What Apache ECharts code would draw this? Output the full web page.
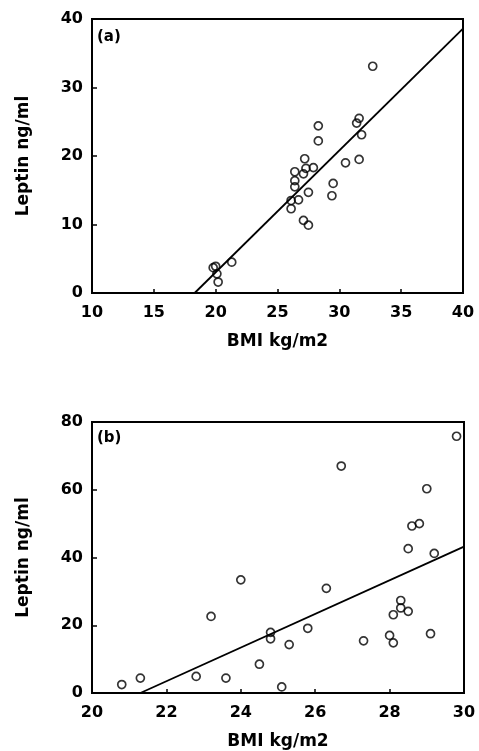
<!DOCTYPE html>
<html>
<head>
<meta charset="utf-8">
<script src="https://cdn.jsdelivr.net/npm/echarts@6/dist/echarts.min.js"></script>
<style>
html,body{margin:0;padding:0;background:#fff;}
#chart{width:479px;height:751px;}
</style>
</head>
<body>
<div id="chart"></div>
<script>
// panel (a)
var bmiA = [19.8, 20.0, 20.1, 20.2, 21.3, 26.1, 26.1, 26.7, 26.4, 26.4, 26.4, 27.1, 27.2, 27.3, 27.9, 27.5, 27.1, 27.5, 28.3, 28.3, 29.4, 29.5, 30.5, 31.6, 31.4, 31.8, 31.6, 32.7];
var leptinA = [3.7, 3.9, 2.8, 1.6, 4.5, 12.3, 13.5, 13.6, 15.5, 16.4, 17.7, 17.4, 19.6, 18.2, 18.3, 14.7, 10.6, 9.9, 24.4, 22.2, 14.2, 16.0, 19.0, 25.5, 24.8, 23.1, 19.5, 33.1];
var fitBmiA = [18.3, 40];
var fitLeptinA = [0, 38.6];
var ticksXA = [10, 15, 20, 25, 30, 35, 40];
var ticksYA = [0, 10, 20, 30, 40];

// panel (b)
var bmiB = [20.8, 21.3, 22.8, 23.2, 23.6, 24.0, 24.5, 24.8, 24.8, 25.1, 25.3, 25.8, 26.3, 26.7, 27.3, 28.0, 28.1, 28.1, 28.3, 28.3, 28.5, 28.5, 28.6, 28.8, 29.0, 29.1, 29.2, 29.8];
var leptinB = [2.5, 4.4, 4.9, 22.6, 4.4, 33.4, 8.5, 16.0, 17.9, 1.8, 14.3, 19.1, 30.9, 67.0, 15.4, 17.0, 14.8, 23.1, 27.3, 25.1, 24.1, 42.6, 49.3, 50.0, 60.3, 17.5, 41.2, 75.8];
var fitBmiB = [21.3, 30];
var fitLeptinB = [0, 43.2];
var ticksXB = [20, 22, 24, 26, 28, 30];
var ticksYB = [0, 20, 40, 60, 80];

var font = 'DejaVu Sans';

function pairs(xs, ys){
	var out = [];
	for(var i=0;i<xs.length;i++){
		out.push([xs[i], ys[i]]);
	}
	return out;
}

function xAxisCfg(idx, ticks){
	return {
		type: 'value', gridIndex: idx,
		min: ticks[0], max: ticks[ticks.length-1], interval: ticks[1]-ticks[0],
		name: 'BMI kg/m2', nameLocation: 'middle', nameGap: 40,
		nameTextStyle: {fontFamily: font, fontWeight: 'bold', fontSize: 17, color: '#000'},
		axisLine: {show: true, onZero: false, lineStyle: {color: '#000', width: 2}},
		axisTick: {show: true, inside: true, length: 4, lineStyle: {color: '#000', width: 1.5}},
		axisLabel: {margin: 12, fontFamily: font, fontWeight: 'bold', fontSize: 16, color: '#000', showMinLabel: true, showMaxLabel: true},
		splitLine: {show: false}
	};
}

function yAxisCfg(idx, ticks){
	return {
		type: 'value', gridIndex: idx,
		min: ticks[0], max: ticks[ticks.length-1], interval: ticks[1]-ticks[0],
		name: 'Leptin ng/ml', nameLocation: 'middle', nameGap: 60,
		nameTextStyle: {fontFamily: font, fontWeight: 'bold', fontSize: 17, color: '#000'},
		axisLine: {show: true, onZero: false, lineStyle: {color: '#000', width: 2}},
		axisTick: {show: true, inside: true, length: 5, lineStyle: {color: '#000', width: 1.5}},
		axisLabel: {margin: 9, fontFamily: font, fontWeight: 'bold', fontSize: 16, color: '#000', showMinLabel: true, showMaxLabel: true},
		splitLine: {show: false}
	};
}

function scatterCfg(idx, data){
	return {
		type: 'scatter', xAxisIndex: idx, yAxisIndex: idx,
		data: data, symbol: 'circle', symbolSize: 8, z: 3,
		itemStyle: {color: 'rgba(255,255,255,0)', borderColor: '#000', borderWidth: 1.7},
		emphasis: {disabled: true}
	};
}

function fitCfg(idx, data){
	return {
		type: 'line', xAxisIndex: idx, yAxisIndex: idx,
		data: data, showSymbol: false, z: 2,
		lineStyle: {color: '#000', width: 1.8},
		emphasis: {disabled: true}
	};
}

var option = {
	backgroundColor: '#fff',
	animation: false,
	grid: [
		{left: 92, top: 19, width: 371, height: 274, show: true, borderColor: '#000', borderWidth: 2},
		{left: 92, top: 422, width: 372, height: 272, show: true, borderColor: '#000', borderWidth: 2}
	],
	xAxis: [xAxisCfg(0, ticksXA), xAxisCfg(1, ticksXB)],
	yAxis: [yAxisCfg(0, ticksYA), yAxisCfg(1, ticksYB)],
	graphic: [
		{type: 'text', left: 97, top: 30, style: {text: '(a)', fontFamily: font, fontWeight: 'bold', fontSize: 15, fill: '#000'}},
		{type: 'text', left: 97, top: 431, style: {text: '(b)', fontFamily: font, fontWeight: 'bold', fontSize: 15, fill: '#000'}}
	],
	series: [
		fitCfg(0, pairs(fitBmiA, fitLeptinA)),
		scatterCfg(0, pairs(bmiA, leptinA)),
		fitCfg(1, pairs(fitBmiB, fitLeptinB)),
		scatterCfg(1, pairs(bmiB, leptinB))
	]
};

var chart = echarts.init(document.getElementById('chart'));
chart.setOption(option);
</script>
</body>
</html>
